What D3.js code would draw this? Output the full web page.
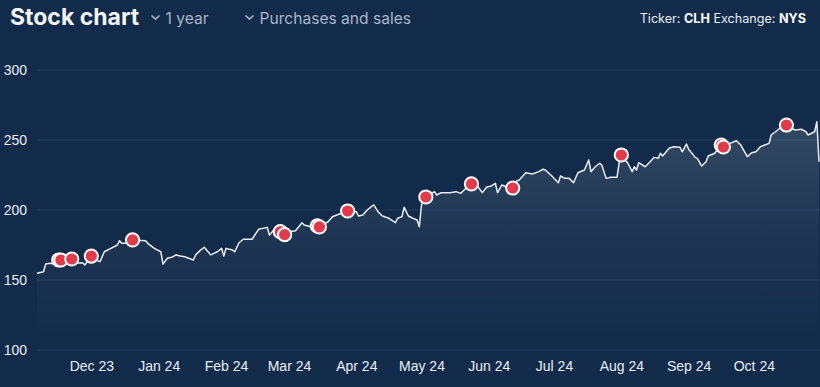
<!DOCTYPE html>
<html lang="en">
<head>
<meta charset="utf-8">
<script src="https://cdn.jsdelivr.net/npm/d3@7"></script>
<title>Stock chart</title>
<style>
  body { margin: 0; background: #122b4a; }
  .tick text { font-family: "Liberation Sans", Arial, sans-serif; font-size: 14px; fill: #e8eef5; }
</style>
</head>
<body>
<script>

// price series
var dates = ["2023-11-06","2023-11-09","2023-11-10","2023-11-12","2023-11-14","2023-11-16","2023-11-17","2023-11-22","2023-11-24","2023-11-27","2023-11-28",
  "2023-12-01","2023-12-03","2023-12-05","2023-12-07","2023-12-10","2023-12-13","2023-12-14","2023-12-15","2023-12-17","2023-12-20","2023-12-26","2023-12-27","2023-12-30",
  "2024-01-02","2024-01-03","2024-01-05","2024-01-07","2024-01-09","2024-01-11","2024-01-13","2024-01-17","2024-01-18","2024-01-20","2024-01-22","2024-01-25","2024-01-28","2024-01-30","2024-01-31",
  "2024-02-01","2024-02-04","2024-02-05","2024-02-07","2024-02-09","2024-02-13","2024-02-16","2024-02-20","2024-02-21","2024-02-23","2024-02-26","2024-02-28",
  "2024-03-01","2024-03-04","2024-03-07","2024-03-08","2024-03-11","2024-03-14","2024-03-15","2024-03-19","2024-03-21","2024-03-23","2024-03-28",
  "2024-04-01","2024-04-02","2024-04-04","2024-04-06","2024-04-09","2024-04-11","2024-04-13","2024-04-16","2024-04-19","2024-04-20","2024-04-22","2024-04-23","2024-04-25","2024-04-27","2024-04-29","2024-04-30",
  "2024-05-01","2024-05-03","2024-05-07","2024-05-08","2024-05-10","2024-05-14","2024-05-17","2024-05-19","2024-05-21","2024-05-24","2024-05-27","2024-05-29","2024-05-31",
  "2024-06-02","2024-06-04","2024-06-05","2024-06-07","2024-06-09","2024-06-12","2024-06-14","2024-06-15","2024-06-18","2024-06-21","2024-06-24","2024-06-26","2024-06-27","2024-06-30",
  "2024-07-03","2024-07-04","2024-07-06","2024-07-08","2024-07-10","2024-07-12","2024-07-15","2024-07-17","2024-07-18","2024-07-20","2024-07-22","2024-07-23","2024-07-25","2024-07-27","2024-07-30","2024-07-31",
  "2024-08-01","2024-08-04","2024-08-06","2024-08-07","2024-08-08","2024-08-09","2024-08-12","2024-08-15","2024-08-16","2024-08-18","2024-08-19","2024-08-20","2024-08-23","2024-08-25","2024-08-28","2024-08-29","2024-08-31",
  "2024-09-01","2024-09-04","2024-09-05","2024-09-07","2024-09-09","2024-09-10","2024-09-13","2024-09-16","2024-09-17","2024-09-20","2024-09-23","2024-09-25","2024-09-28","2024-09-30",
  "2024-10-02","2024-10-04","2024-10-06","2024-10-08","2024-10-09","2024-10-11","2024-10-13","2024-10-16","2024-10-20","2024-10-23","2024-10-25","2024-10-26","2024-10-29","2024-10-30","2024-10-31"];

var prices = [154.8,155.9,161.4,161.9,161.4,164.3,164.3,165.0,161.9,162.4,160.7,
  167.1,164.3,163.1,170.2,172.6,175.0,178.1,176.2,176.2,178.6,178.1,176.2,172.6,
  170.2,161.4,165.5,166.2,167.9,167.1,166.6,164.3,167.9,171.0,173.4,167.9,170.2,172.6,167.1,
  172.6,171.4,170.2,176.6,179.1,179.1,186.2,187.6,182.1,185.7,184.5,182.4,
  184.5,185.2,190.9,189.3,188.1,188.6,187.9,191.6,195.2,196.4,199.3,
  198.8,195.7,196.4,200.0,203.6,198.8,195.7,194.1,190.9,194.1,195.2,201.9,195.7,194.1,192.9,188.1,
  203.6,209.3,213.1,210.7,212.4,212.4,213.1,211.9,214.8,218.6,216.6,212.4,216.2,
  217.1,219.1,212.4,217.9,216.6,215.7,220.9,221.4,226.6,225.7,227.4,229.1,228.6,224.3,
  219.5,224.3,222.6,222.6,219.5,226.6,228.6,235.7,227.4,230.9,233.4,232.1,222.6,223.4,223.4,233.4,
  239.3,233.4,227.4,230.9,228.6,233.8,230.9,235.7,237.6,236.9,240.5,238.6,244.1,245.2,244.8,241.6,247.1,
  243.4,237.6,236.9,231.4,234.5,238.6,240.5,246.4,245.0,247.6,249.5,246.4,238.1,240.9,
  241.6,245.2,246.4,247.6,253.6,255.9,258.4,260.7,257.1,257.6,255.9,253.6,255.9,263.1,234.5];

// purchases and sales
var tradeDates = ["2023-11-16","2023-11-17","2023-11-22","2023-12-01","2023-12-20","2024-02-26","2024-02-28","2024-03-14","2024-03-15",
  "2024-03-28","2024-05-03","2024-05-24","2024-06-12","2024-08-01","2024-09-16","2024-09-17","2024-10-16"];
var tradePrices = [164.3,164.3,165.0,167.1,178.6,184.5,182.4,188.6,187.9,199.3,209.3,218.6,215.7,239.3,246.4,245.0,260.7];

var yTicks = [100, 150, 200, 250, 300];

var width = 820, height = 387;
var parse = d3.timeParse("%Y-%m-%d");

var data = dates.map(function(d, i){ return {date: parse(d), price: prices[i]}; });
var trades = tradeDates.map(function(d, i){ return {date: parse(d), price: tradePrices[i]}; });

var svg = d3.select("body").append("svg")
  .attr("width", width).attr("height", height)
  .style("display", "block");

svg.append("rect").attr("width", width).attr("height", height).attr("fill", "#122b4a");

var x = d3.scaleTime()
  .domain(d3.extent(data, function(d){ return d.date; }))
  .range([37, 819]);

var y = d3.scaleLinear().domain([100, 300]).range([350, 70]);

// gradient for the area
var grad = svg.append("defs").append("linearGradient")
  .attr("id", "areaFill").attr("x1", 0).attr("y1", 0).attr("x2", 0).attr("y2", 1);
grad.append("stop").attr("offset", "0%").attr("stop-color", "#ffffff").attr("stop-opacity", 0.14);
grad.append("stop").attr("offset", "50%").attr("stop-color", "#ffffff").attr("stop-opacity", 0.05);
grad.append("stop").attr("offset", "100%").attr("stop-color", "#ffffff").attr("stop-opacity", 0.0);

// grid
svg.append("g").selectAll("line").data(yTicks).enter().append("line")
  .attr("x1", 37).attr("x2", width)
  .attr("y1", function(d){ return y(d); }).attr("y2", function(d){ return y(d); })
  .attr("stroke", "#233f60").attr("stroke-width", 1);

// y axis
var yAxis = d3.axisLeft(y).tickValues(yTicks).tickSize(0).tickPadding(3);
svg.append("g").attr("transform", "translate(30,0)").call(yAxis)
  .call(function(g){ g.select(".domain").remove(); });

// x axis
var xAxis = d3.axisBottom(x).ticks(d3.timeMonth.every(1)).tickFormat(d3.timeFormat("%b %y")).tickSize(0).tickPadding(11);
svg.append("g").attr("transform", "translate(0,350)").call(xAxis)
  .call(function(g){ g.select(".domain").remove(); });

// area + line
var area = d3.area()
  .x(function(d){ return x(d.date); })
  .y0(y(100))
  .y1(function(d){ return y(d.price); });

svg.append("path").datum(data).attr("d", area).attr("fill", "url(#areaFill)");

var line = d3.line()
  .x(function(d){ return x(d.date); })
  .y(function(d){ return y(d.price); });

svg.append("path").datum(data).attr("d", line)
  .attr("fill", "none").attr("stroke", "#e9eef5").attr("stroke-width", 1.5)
  .attr("stroke-linejoin", "round");

// trade markers
svg.append("g").selectAll("circle").data(trades).enter().append("circle")
  .attr("cx", function(d){ return x(d.date); })
  .attr("cy", function(d){ return y(d.price); })
  .attr("r", 6.6)
  .attr("fill", "#e03a4b")
  .attr("stroke", "#ffffff").attr("stroke-width", 2);

// header
svg.append("text").attr("x", 10).attr("y", 25)
  .style("font-family", "Inter, sans-serif").style("font-weight", 700).style("font-size", "23px")
  .attr("fill", "#f2f5f9").text("Stock chart");

var menus = [{x: 151.5, label: "1 year"}, {x: 245.5, label: "Purchases and sales"}];
menus.forEach(function(m){
  svg.append("path")
    .attr("d", "M" + m.x + ",15.5 L" + (m.x + 4) + ",19.2 L" + (m.x + 8) + ",15.5")
    .attr("fill", "none").attr("stroke", "#a8b6c7").attr("stroke-width", 1.6);
  svg.append("text").attr("x", m.x + 14).attr("y", 24)
    .style("font-family", "Inter, sans-serif").style("font-size", "15.6px")
    .attr("fill", "#a8b6c7").text(m.label);
});

var info = svg.append("text").attr("x", 806).attr("y", 23).attr("text-anchor", "end")
  .style("font-family", "Inter, sans-serif").style("font-size", "12.6px").attr("fill", "#e8edf3");
info.append("tspan").text("Ticker: ");
info.append("tspan").style("font-weight", 700).attr("fill", "#ffffff").text("CLH");
info.append("tspan").text(" Exchange: ");
info.append("tspan").style("font-weight", 700).attr("fill", "#ffffff").text("NYS");

</script>
</body>
</html>
